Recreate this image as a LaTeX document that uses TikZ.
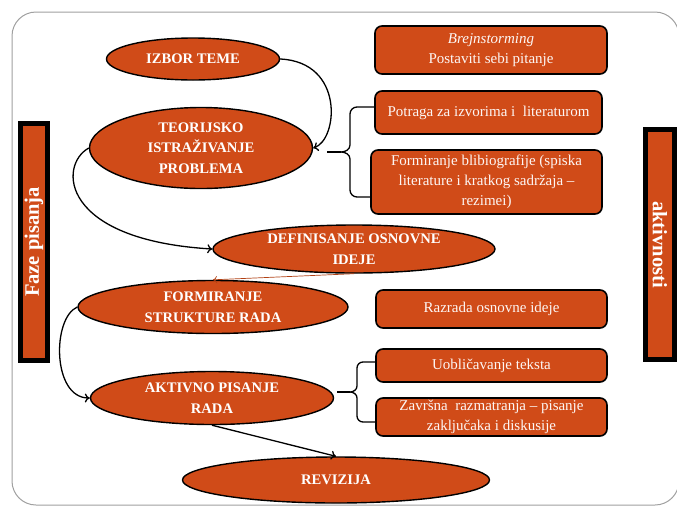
\documentclass[tikz,border=0pt]{standalone}
\usepackage{fontspec}
\setmainfont{Liberation Serif}
\usetikzlibrary{shapes.geometric,arrows.meta}
\definecolor{rust}{RGB}{208,75,24}
\definecolor{framegray}{RGB}{160,160,160}
\tikzset{
  ell/.style={ellipse, draw=black, line width=1.4pt, fill=rust, text=white, inner sep=0pt, align=center,
    font=\bfseries\fontsize{14.6}{20.5}\selectfont},
  actbox/.style={rectangle, rounded corners=7pt, draw=black, line width=1.6pt, fill=rust, text=white!95!rust,
    inner sep=0pt, align=center, font=\fontsize{15}{20}\selectfont},
  bar/.style={rectangle, draw=black, line width=5pt, fill=rust, text=white, inner sep=0pt,
    font=\bfseries\fontsize{20.5}{22}\selectfont},
  conn/.style={draw=black, line width=1.3pt, -{To[length=5pt,width=9pt]}},
  brace/.style={draw=black, line width=1.3pt},
}
\begin{document}
\begin{tikzpicture}[x=1pt,y=-1pt]
\useasboundingbox (0,0) rectangle (677,507);
\begin{scope}
\clip (0,0) rectangle (677,507);
\draw[framegray, line width=1pt, rounded corners=24pt] (12,12) rectangle (679,505);
\end{scope}

% side bars
\node[bar, rotate=90, minimum width=237pt, minimum height=27pt] (faze) at (34,242) {Faze pisanja};
\node[bar, rotate=-90, minimum width=230pt, minimum height=29pt] (akt) at (660,244.5) {aktivnosti};

% ellipses
\node[ell, minimum width=173pt, minimum height=42pt] (izbor) at (193,59) {IZBOR TEME};
\node[ell, minimum width=223pt, minimum height=81pt] (teo) at (201,148) {TEORIJSKO\\ISTRAŽIVANJE\\PROBLEMA};
\node[ell, minimum width=282pt, minimum height=48pt] (def) at (354,249) {DEFINISANJE OSNOVNE\\IDEJE};
\node[ell, minimum width=270pt, minimum height=53pt] (form) at (213,307) {FORMIRANJE\\STRUKTURE RADA};
\node[ell, minimum width=243pt, minimum height=53pt] (pis) at (212,398) {AKTIVNO PISANJE\\RADA};
\node[ell, minimum width=307pt, minimum height=46pt] (rev) at (336,480) {REVIZIJA};

% activity boxes
\node[actbox, minimum width=232pt, minimum height=48pt] (brej) at (491,50) {\textit{Brejnstorming}\\Postaviti sebi pitanje};
\node[actbox, minimum width=227pt, minimum height=43pt] (potr) at (488.5,112.5) {Potraga za izvorima i \ literaturom};
\node[actbox, minimum width=231pt, minimum height=64pt] (bibl) at (486.5,182) {Formiranje blibiografije (spiska\\literature i kratkog sadržaja –\\rezimei)};
\node[actbox, minimum width=231pt, minimum height=38pt] (razr) at (491.5,309) {Razrada osnovne ideje};
\node[actbox, minimum width=231pt, minimum height=33pt] (uobl) at (491.5,365.5) {Uobličavanje teksta};
\node[actbox, minimum width=231pt, minimum height=38pt] (zavr) at (491.5,417) {Završna \ razmatranja – pisanje\\zaključaka i diskusije};

% connectors between phases
\draw[conn] (izbor.east) .. controls (345,62) and (338,140) .. (teo.east);
\draw[conn] (teo.west) .. controls (58,165) and (60,240) .. (def.west);
\draw[draw=rust!85!black, line width=0.7pt, -{To[length=4pt,width=7pt]}] (def.south) -- (form.north);
\draw[conn] (form.west) .. controls (52,318) and (52,398) .. (pis.west);
\draw[conn] (pis.south) -- (rev.north);

% braces
\coordinate (b1s) at (327,152);
\coordinate (b1t) at (341,152);
\draw[brace] (b1s) -- (b1t);
\draw[brace] (potr.west |- 0,107) -- (357,107) to[out=180,in=90] (350,114) -- (350,145)
  to[out=270,in=0] (b1t) to[out=0,in=90] (350,159) -- (350,190) to[out=270,in=180] (357,197) -- (bibl.west |- 0,197);

\coordinate (b2s) at (337,392);
\coordinate (b2t) at (350,392);
\draw[brace] (b2s) -- (b2t);
\draw[brace] (uobl.west |- 0,362) -- (363,362) to[out=180,in=90] (357,368) -- (357,386)
  to[out=270,in=0] (b2t) to[out=0,in=90] (357,398) -- (357,416) to[out=270,in=180] (363,422) -- (zavr.west |- 0,422);
\end{tikzpicture}
\end{document}
